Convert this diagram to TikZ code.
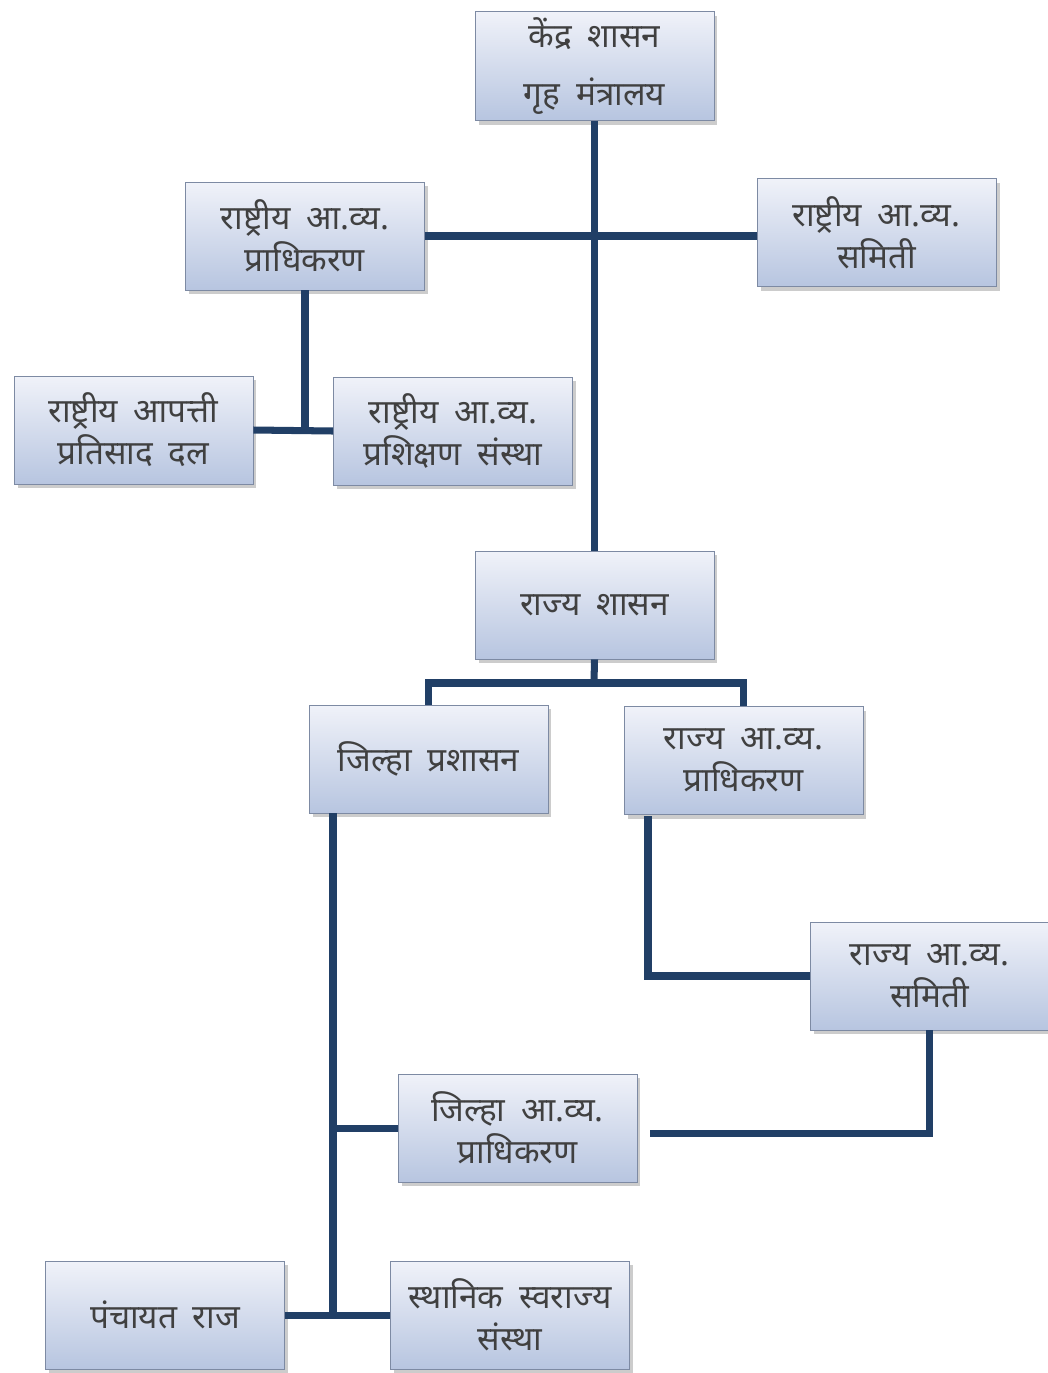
\documentclass[tikz,border=0pt]{standalone}
\usepackage{fontspec}
\newfontfamily\devfont[Script=Devanagari,WordSpace=1.8]{Noto Sans}
\usetikzlibrary{positioning,shadows,calc}
\definecolor{linknavy}{HTML}{213F66}
\definecolor{boxtop}{HTML}{F0F2F9}
\definecolor{boxbottom}{HTML}{B7C5E0}
\definecolor{boxedge}{HTML}{7D8AA3}
\tikzset{
    every node/.style={font=\devfont\fontsize{19}{24}\selectfont},
}

\begin{document}
\begin{tikzpicture}[x=0.02cm, y=-0.02cm,
        unit/.style={rectangle,draw=boxedge,thin,top color=boxtop,bottom color=boxbottom,
            minimum width=4.78cm,minimum height=2.16cm,align=center,text=black!75,
            drop shadow={opacity=0.4,shadow xshift=2pt,shadow yshift=-2.5pt}},
        link/.style={draw=linknavy,line width=4pt}
    ]
    \useasboundingbox (0,0) rectangle (1048,1373);

    % kendra star
    \node[unit] (centre) at (594.5,66) {केंद्र शासन\\[9pt]गृह मंत्रालय};
    \node[unit] (ndma) at (305,236) {राष्ट्रीय आ.व्य.\\प्राधिकरण};
    \node[unit] (nec) at (876.5,232.5) {राष्ट्रीय आ.व्य.\\समिती};
    \node[unit] (ndrf) at (133.5,430) {राष्ट्रीय आपत्ती\\प्रतिसाद दल};
    \node[unit] (nidm) at (453,431) {राष्ट्रीय आ.व्य.\\प्रशिक्षण संस्था};

    % rajya star
    \node[unit] (state) at (594.5,605) {राज्य शासन};
    \node[unit] (dadmin) at (428.5,759) {जिल्हा प्रशासन};
    \node[unit] (sdma) at (743.5,760.5) {राज्य आ.व्य.\\प्राधिकरण};
    \node[unit] (sec) at (929.5,976) {राज्य आ.व्य.\\समिती};

    % jilha star
    \node[unit] (ddma) at (517.5,1128) {जिल्हा आ.व्य.\\प्राधिकरण};
    \node[unit] (panch) at (165,1315) {पंचायत राज};
    \node[unit] (local) at (510,1315) {स्थानिक स्वराज्य\\संस्था};

    % joints
    \coordinate (nj) at (305,432);
    \coordinate (sj) at (594,683);
    \coordinate (dl) at (333,813);
    \coordinate (db) at (333,1316);
    \coordinate (sl) at (648,816);
    \coordinate (dr) at (650,1133);

    % links
    \draw[link] (centre.south) -- (state.north);
    \draw[link] (ndma.east) -- (ndma.east -| nec.west);
    \draw[link] (ndma.south) -- (nj);
    \draw[link] (ndrf.east) -- (nidm.west);
    \draw[link] (state.south) -- (sj);
    \draw[link] (dadmin.north) |- (sj) -| (sdma.north);
    \draw[link] (dl) -- (db);
    \draw[link] (ddma.west) -- (ddma.west -| dl);
    \draw[link] (panch.east) -- (local.west);
    \draw[link] (sl) |- (sec.west);
    \draw[link] (sec.south) |- (dr);
\end{tikzpicture}
\end{document}
